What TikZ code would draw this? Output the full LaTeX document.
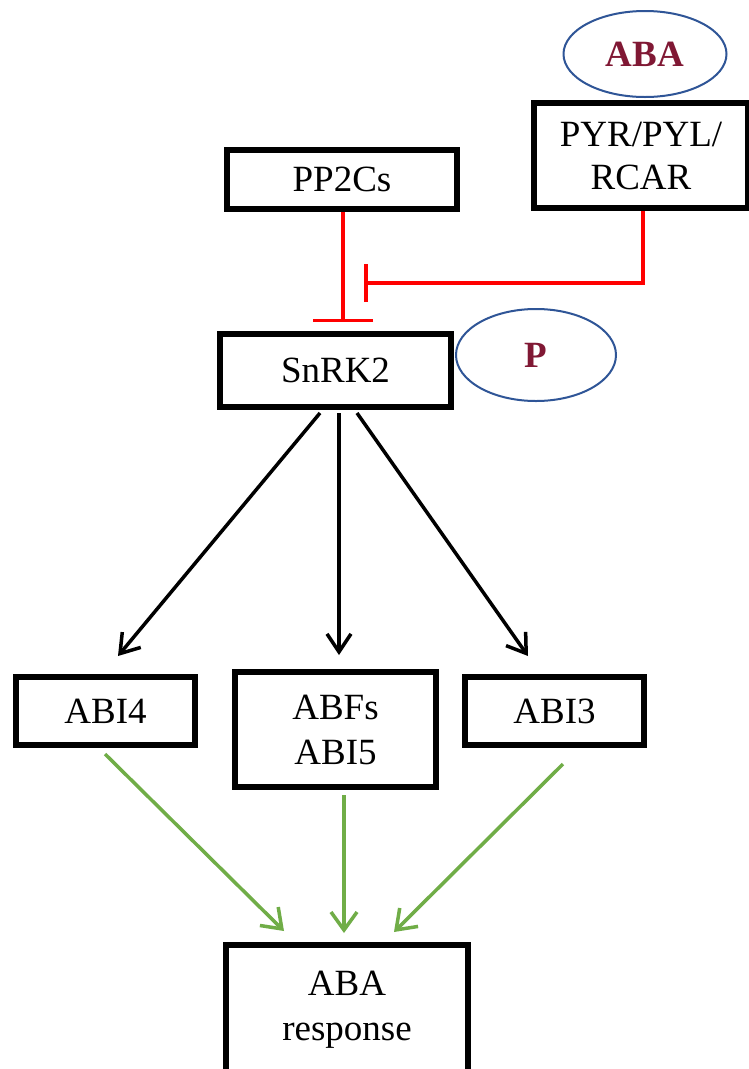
\documentclass[tikz,border=0pt]{standalone}
\usepackage{fontspec}
\setmainfont{Liberation Serif}
\usetikzlibrary{arrows.meta,calc,shapes.geometric}
\definecolor{ellblue}{RGB}{47,85,151}
\definecolor{abared}{RGB}{128,24,52}
\definecolor{grn}{RGB}{112,173,71}
\begin{document}
\begin{tikzpicture}[x=1pt,y=-1pt,
  box/.style={draw=black, line width=6pt, rectangle, inner sep=0pt, align=center,
    font=\fontsize{37}{45}\selectfont},
  ell/.style={draw=ellblue, line width=2pt, ellipse, inner sep=0pt,
    text=abared, font=\fontsize{37}{45}\selectfont\bfseries},
  inh/.style={draw=red, line width=3.5pt},
  act/.style={draw=black, line width=3.5pt, -{Straight Barb[length=18pt,width=24pt]}},
  gact/.style={draw=grn, line width=3.5pt, -{Straight Barb[length=18pt,width=26pt]}}]
\useasboundingbox (0,0) rectangle (748,1069);
\fill[white] (0,0) rectangle (748,1069);
% nodes
\node[ell, minimum width=163, minimum height=86] (aba) at (645,54) {ABA};
\node[box, minimum width=214, minimum height=105, font=\fontsize{37}{43}\selectfont] (pyr) at (641,155.5) {PYR/PYL/\\RCAR};
\node[box, minimum width=230, minimum height=59] (pp2c) at (342,179.5) {PP2Cs};
\node[box, minimum width=231, minimum height=73] (snrk) at (335.5,370.5) {SnRK2};
\node[ell, minimum width=160, minimum height=92] (p) at (536,355) {P};
\node[box, minimum width=179, minimum height=68] (abi4) at (105.5,711) {ABI4};
\node[box, minimum width=201, minimum height=115] (abf) at (335.5,729.5) {ABFs\\ABI5};
\node[box, minimum width=179, minimum height=68] (abi3) at (554.5,711) {ABI3};
\node[box, minimum width=242, minimum height=166] (resp) at (347,1028) {ABA\\response\\\mbox{}};
\coordinate (inhpt) at (364,283);
% inhibitions
\draw[inh, -{Bar[width=60pt]}] ($(pp2c.south)+(1,0)$) -- ($(snrk.north)+(7.5,-9)$);
\draw[inh, -{Bar[width=38pt]}] ($(pyr.south)+(2,0)$) |- (inhpt);
% activations
\draw[act] ($(snrk.south)+(-15.5,3)$) -- ($(abi4.north)+(12.5,-18)$);
\draw[act] ($(snrk.south)+(3.5,3)$) -- ($(abf.north)+(3.5,-14)$);
\draw[act] ($(snrk.south)+(21.5,3)$) -- ($(abi3.north)+(-26.5,-18)$);
\draw[gact] ($(abi4.south)+(-0.5,6)$) -- ($(resp.north)+(-63,-11)$);
\draw[gact] ($(abf.south)+(8.5,5)$) -- ($(resp.north)+(-3,-9)$);
\draw[gact] ($(abi3.south)+(8.5,16)$) -- ($(resp.north)+(47,-10)$);
\end{tikzpicture}
\end{document}
